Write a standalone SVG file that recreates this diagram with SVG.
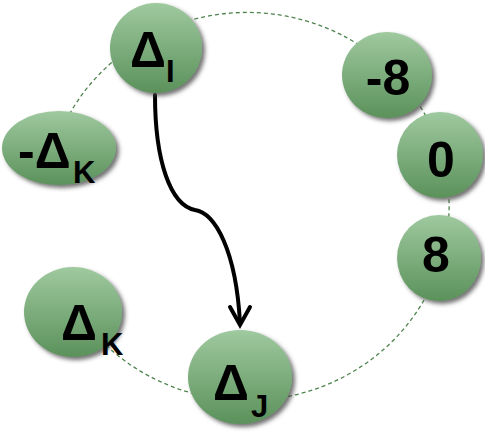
<svg xmlns="http://www.w3.org/2000/svg" width="485" height="432" viewBox="0 0 485 432">
<defs>
<linearGradient id="g" x1="0" y1="0" x2="0" y2="1">
<stop offset="0" stop-color="#9fc99f"/>
<stop offset="1" stop-color="#5b915b"/>
</linearGradient>
<filter id="sh" x="-20%" y="-20%" width="150%" height="150%">
<feDropShadow dx="3" dy="3" stdDeviation="2" flood-color="#444" flood-opacity="0.75"/>
</filter>
</defs>
<style>
.n{fill:url(#g);filter:url(#sh)}
.t{font-family:"Liberation Sans",Arial,sans-serif;font-weight:bold;fill:#000}
.big{font-size:50px}
.sub{font-size:31px}
.ring{fill:none;stroke:#4f844f;stroke-width:1.3;stroke-dasharray:4 3}
</style>
<g id="connectors">
<path class="ring" d="M47,180 A202,194 0 1 1 57,272"/>
<path d="M155,95 C155,160 170,205 195,210 C215,213 236,250 240,323" fill="none" stroke="#000" stroke-width="4" stroke-linecap="round"/>
<path d="M230,307 L240,325 L250,307" fill="none" stroke="#000" stroke-width="4" stroke-linecap="round" stroke-linejoin="miter"/>
</g>
<g id="nodeDI">
<ellipse class="n" cx="156" cy="48" rx="46" ry="45"/>
<text class="t big" x="130" y="67">Δ</text>
<text class="t sub" x="166" y="82">I</text>
</g>
<g id="nodeNegDK">
<ellipse class="n" cx="59" cy="148" rx="57" ry="37"/>
<text class="t big" x="18" y="168">-Δ</text>
<text class="t sub" x="73" y="183">K</text>
</g>
<g id="nodeNeg8">
<ellipse class="n" cx="387" cy="75" rx="45" ry="43"/>
<text class="t big" x="388" y="95" text-anchor="middle">-8</text>
</g>
<g id="node0">
<ellipse class="n" cx="440" cy="155" rx="43" ry="43"/>
<text class="t big" x="441" y="177" text-anchor="middle">0</text>
</g>
<g id="node8">
<ellipse class="n" cx="439" cy="258" rx="42" ry="43"/>
<text class="t big" x="436" y="272" text-anchor="middle">8</text>
</g>
<g id="nodeDK">
<ellipse class="n" cx="73" cy="312" rx="49" ry="45"/>
<text class="t big" x="61" y="340">Δ</text>
<text class="t sub" x="101" y="355">K</text>
</g>
<g id="nodeDJ">
<ellipse class="n" cx="240" cy="377" rx="52" ry="47"/>
<text class="t big" x="213" y="400">Δ</text>
<text class="t sub" x="251" y="417">J</text>
</g>
</svg>
